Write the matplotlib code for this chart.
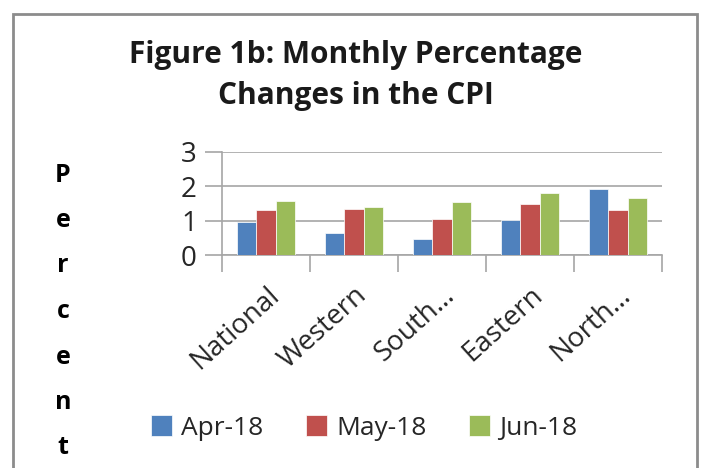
import matplotlib
matplotlib.use("Agg")
import matplotlib.pyplot as plt
from matplotlib.patches import Rectangle
import numpy as np

categories = ["National", "Western", "South\u2026", "Eastern", "North\u2026"]
series = ["Apr-18", "May-18", "Jun-18"]
apr = [0.95, 0.63, 0.47, 1.02, 1.93]
may = [1.30, 1.35, 1.04, 1.48, 1.30]
jun = [1.57, 1.39, 1.54, 1.80, 1.66]
colors = ["#4F81BD", "#C0504D", "#9BBB59"]
yticks = [0, 1, 2, 3]

plt.rcParams['font.family'] = ['Open Sans', 'DejaVu Sans']

fig = plt.figure(figsize=(7.09, 4.68), dpi=100)
W, H = 709, 468
# outer border
fig.patches.append(Rectangle((13 / W, -0.05), (697 - 13) / W, (H - 14) / H + 0.05,
                             transform=fig.transFigure, fill=False,
                             edgecolor="#8C8C8C", linewidth=2))

ax = fig.add_axes([222 / W, 1 - 255 / H, (662 - 222) / W, (255 - 152) / H])
x = np.arange(len(categories))
bw = 0.22
for i, (vals, c, s) in enumerate(zip([apr, may, jun], colors, series)):
    ax.bar(x + (i - 1) * bw, vals, width=bw, color=c, label=s,
           edgecolor="white", linewidth=0.5, zorder=3)

ax.set_xlim(-0.5, len(categories) - 0.5)
ax.set_ylim(0, 3)
ax.set_yticks(yticks)
ax.set_yticklabels([str(v) for v in yticks], fontsize=20, color="#262626")
ax.yaxis.grid(True, color="#A6A6A6", linewidth=1.2, zorder=0)
ax.set_xticks(np.arange(len(categories) + 1) - 0.5, minor=False)
ax.set_xticklabels([])
ax.set_xticks(x, minor=True)
ax.set_xticklabels(categories, minor=True, rotation=42, ha="right",
                   rotation_mode="anchor", fontsize=20, color="#262626")
ax.tick_params(axis="x", which="minor", length=0, pad=19)
ax.tick_params(axis="x", which="major", length=12, color="#A6A6A6", width=1.2)
ax.tick_params(axis="y", length=12, color="#A6A6A6", width=1.2, pad=6)
for side in ["top", "right"]:
    ax.spines[side].set_visible(False)
for side in ["left", "bottom"]:
    ax.spines[side].set_color("#A6A6A6")
    ax.spines[side].set_linewidth(1.2)

fig.text(356 / W, 1 - 55 / H, "Figure 1b: Monthly Percentage", ha="center",
         va="center", fontsize=21.5, fontweight="bold", color="#1A1A1A")
fig.text(356 / W, 1 - 96 / H, "Changes in the CPI", ha="center",
         va="center", fontsize=21.5, fontweight="bold", color="#1A1A1A")

for k, ch in enumerate("Percent"):
    fig.text(63 / W, 1 - (175 + k * 45.5) / H, ch, ha="center", va="center",
             fontsize=18, fontweight="bold")

handles, labels = ax.get_legend_handles_labels()
fig.legend(handles, labels, loc="center", bbox_to_anchor=(364 / W, 1 - 428 / H),
           ncol=3, frameon=False, fontsize=19, handlelength=0.8,
           handleheight=0.8, handletextpad=0.35, columnspacing=1.6,
           labelcolor="#262626")

fig.savefig("out.png", dpi=100)
